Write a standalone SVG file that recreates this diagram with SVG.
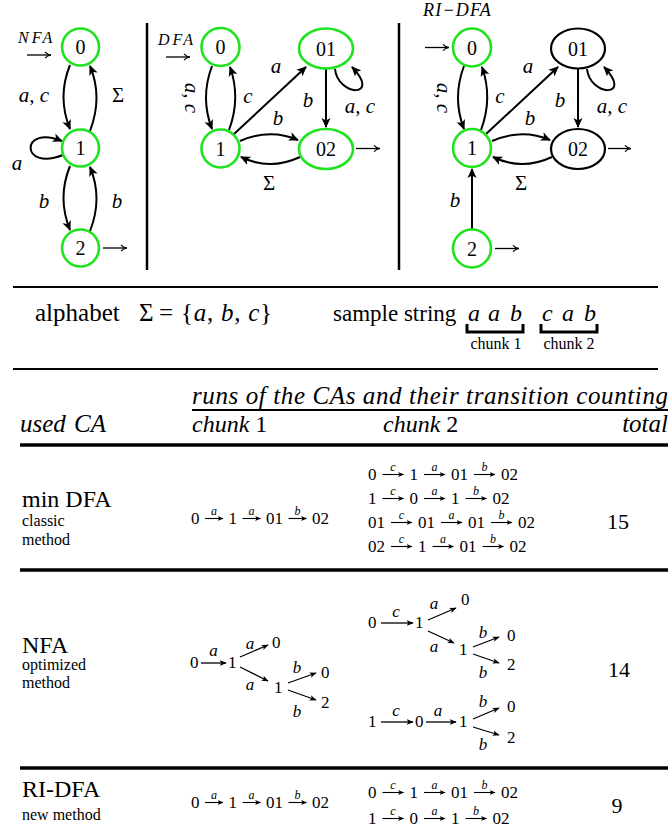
<svg xmlns="http://www.w3.org/2000/svg" width="670" height="835" viewBox="0 0 670 835" font-family="'Liberation Serif', 'Times New Roman', serif">
<style>
text{font-family:'Liberation Serif','Times New Roman',serif;fill:#000}
.it{font-style:italic}
.nl{font-size:20px;text-anchor:middle}
.el{font-size:21px;font-style:italic;text-anchor:middle}
.up{font-style:normal}
.gn{fill:#fff;stroke:#1ee31e;stroke-width:2.6}
.bn{fill:#fff;stroke:#000;stroke-width:2.2}
.e{fill:none;stroke:#000;stroke-width:2;marker-end:url(#ah)}
.io{fill:none;stroke:#000;stroke-width:1.3;marker-end:url(#oa)}
.sep{stroke:#000;stroke-width:2.5}
.rule{stroke:#000;stroke-width:2}
.thick{stroke:#000;stroke-width:3.5}
.ta{fill:none;stroke:#000;stroke-width:1.3;marker-end:url(#sa)}
.ca{fill:none;stroke:#000;stroke-width:1.1;marker-end:url(#ca)}
.big{font-size:24px}
.hd{font-size:25px;font-style:italic}
.sm{font-size:16px}
.d{font-size:17px}
.lb{font-size:12px;font-style:italic;text-anchor:middle}
.tl{font-size:17px;font-style:italic;text-anchor:middle}
.tot{font-size:22px;text-anchor:middle}
.ml{font-size:16px;font-style:italic}
</style>
<defs>
<marker id="ah" viewBox="0 0 10 10" refX="9" refY="5" markerWidth="10" markerHeight="10" markerUnits="userSpaceOnUse" orient="auto"><path d="M0,0.5 L10,5 L0,9.5 L2.5,5 Z"/></marker>
<marker id="sa" viewBox="0 0 10 10" refX="9" refY="5" markerWidth="7" markerHeight="7" markerUnits="userSpaceOnUse" orient="auto"><path d="M0,1 L10,5 L0,9 L2.5,5 Z"/></marker>
<marker id="oa" viewBox="0 0 10 10" refX="9.5" refY="5" markerWidth="8" markerHeight="8" markerUnits="userSpaceOnUse" orient="auto"><path d="M2,1 Q5,4.5 9.5,5 Q5,5.5 2,9" fill="none" stroke="#000" stroke-width="1.4"/></marker>
<marker id="ca" viewBox="0 0 10 10" refX="9" refY="5" markerWidth="6" markerHeight="6" markerUnits="userSpaceOnUse" orient="auto"><path d="M0,1 L10,5 L0,9 L2.5,5 Z"/></marker>
</defs>

<g id="connectors">
<!-- NFA -->
<path class="io" d="M27,55 H51"/>
<path class="io" d="M103,248 H127"/>
<path class="e" d="M70,65 Q57,97 70,129"/>
<path class="e" d="M90,131 Q103,97 90,66"/>
<path class="e" d="M63,155 C20,172 20,124 62,141"/>
<path class="e" d="M70,166 Q57,198 70,230"/>
<path class="e" d="M90,231 Q103,198 90,167"/>
<!-- DFA -->
<path class="io" d="M166,57 H190"/>
<path class="io" d="M356,148.5 H380"/>
<path class="e" d="M212,66 Q200,98 212,129"/>
<path class="e" d="M229,130 Q241,98 230,67"/>
<path class="e" d="M234,134 L306,67"/>
<path class="e" d="M335,69 C338,97 382,98 352,67"/>
<path class="e" d="M326,69 L326,127"/>
<path class="e" d="M240,141 Q270,128 298,140"/>
<path class="e" d="M300,157 Q270,171 241,157"/>
<!-- RI-DFA -->
<path class="io" d="M425,47.5 H449"/>
<path class="io" d="M608,148.5 H631"/>
<path class="io" d="M495,248.5 H519"/>
<path class="e" d="M464,66 Q452,98 464,129"/>
<path class="e" d="M481,130 Q493,98 482,67"/>
<path class="e" d="M486,134 L558,67"/>
<path class="e" d="M587,69 C590,97 634,98 604,67"/>
<path class="e" d="M578,69 L578,127"/>
<path class="e" d="M492,141 Q522,128 550,140"/>
<path class="e" d="M552,157 Q522,171 493,157"/>
<path class="e" d="M472,229 L472,169"/>
</g>

<!-- ===== NFA ===== -->
<g id="nfa-labels">
<text class="ml" x="18" y="43" letter-spacing="3">NFA</text>
<text class="el" x="34" y="102">a, c</text>
<text class="el up" x="118" y="102">Σ</text>
<text class="el" x="17" y="170">a</text>
<text class="el" x="44" y="208">b</text>
<text class="el" x="117" y="208">b</text>
</g>
<g id="nfa-0"><circle class="gn" cx="80.5" cy="47" r="18.5"/><text class="nl" x="80.5" y="54">0</text></g>
<g id="nfa-1"><circle class="gn" cx="80.5" cy="148" r="18.5"/><text class="nl" x="80.5" y="155">1</text></g>
<g id="nfa-2"><circle class="gn" cx="80.5" cy="248" r="18.5"/><text class="nl" x="80.5" y="255">2</text></g>

<line class="sep" x1="147" y1="23" x2="147" y2="270"/>

<!-- ===== DFA ===== -->
<g id="dfa-labels">
<text class="ml" x="158" y="45" letter-spacing="3">DFA</text>
<text class="el" transform="translate(191,98) rotate(90)" dy="6">a, c</text>
<text class="el" x="248" y="103">c</text>
<text class="el" x="276" y="73">a</text>
<text class="el" x="308" y="107">b</text>
<text class="el" x="360" y="113">a, c</text>
<text class="el" x="278" y="125">b</text>
<text class="el up" x="269" y="190">Σ</text>
</g>
<g id="dfa-0"><circle class="gn" cx="220.5" cy="47" r="19"/><text class="nl" x="220.5" y="54">0</text></g>
<g id="dfa-01"><ellipse class="gn" cx="326" cy="48.5" rx="27" ry="20"/><text class="nl" x="326" y="55.5">01</text></g>
<g id="dfa-1"><circle class="gn" cx="220.5" cy="148.5" r="19"/><text class="nl" x="220.5" y="155.5">1</text></g>
<g id="dfa-02"><ellipse class="gn" cx="326" cy="149" rx="27" ry="20"/><text class="nl" x="326" y="156">02</text></g>

<line class="sep" x1="399" y1="23" x2="399" y2="270"/>

<!-- ===== RI-DFA ===== -->
<g id="ri-labels">
<text class="it" x="423" y="16" font-size="18" letter-spacing="1.2">RI−DFA</text>
<text class="el" transform="translate(443,98) rotate(90)" dy="6">a, c</text>
<text class="el" x="500" y="103">c</text>
<text class="el" x="528" y="73">a</text>
<text class="el" x="560" y="107">b</text>
<text class="el" x="612" y="113">a, c</text>
<text class="el" x="530" y="125">b</text>
<text class="el up" x="521" y="190">Σ</text>
<text class="el" x="455" y="207">b</text>
</g>
<g id="ri-0"><circle class="gn" cx="472" cy="47.5" r="19"/><text class="nl" x="472" y="54.5">0</text></g>
<g id="ri-01"><ellipse class="bn" cx="578" cy="48.5" rx="27" ry="20"/><text class="nl" x="578" y="55.5">01</text></g>
<g id="ri-1"><circle class="gn" cx="472" cy="148" r="19"/><text class="nl" x="472" y="155">1</text></g>
<g id="ri-02"><ellipse class="bn" cx="578" cy="149" rx="27" ry="20"/><text class="nl" x="578" y="156">02</text></g>
<g id="ri-2"><circle class="gn" cx="472" cy="248.5" r="19"/><text class="nl" x="472" y="255.5">2</text></g>

<!-- ===== alphabet / sample ===== -->
<line class="rule" x1="13" y1="287" x2="658" y2="287"/>
<text font-size="25" x="35" y="321">alphabet</text>
<text font-size="25" x="139" y="321">Σ</text>
<text font-size="25" x="159" y="321">=</text>
<text font-size="25" x="181" y="321" textLength="91" lengthAdjust="spacing">{<tspan class="it">a</tspan>, <tspan class="it">b</tspan>, <tspan class="it">c</tspan>}</text>
<text font-size="23" x="333" y="321">sample string</text>
<text class="big it" x="468" y="321">a</text><text class="big it" x="488" y="321">a</text><text class="big it" x="510" y="321">b</text>
<text class="big it" x="542" y="321">c</text><text class="big it" x="562" y="321">a</text><text class="big it" x="584" y="321">b</text>
<path d="M467,324 V332 H523 V324 M541,324 V332 H597 V324" fill="none" stroke="#000" stroke-width="3"/>
<text font-size="16" x="496" y="349" text-anchor="middle">chunk 1</text>
<text font-size="16" x="569" y="349" text-anchor="middle">chunk 2</text>
<line class="rule" x1="13" y1="369" x2="658" y2="369"/>

<!-- ===== table header ===== -->
<text class="hd" x="192" y="404" textLength="476" lengthAdjust="spacing">runs of the CAs and their transition counting</text>
<line class="rule" x1="192" y1="410" x2="668" y2="410"/>
<text class="hd" x="20" y="432" word-spacing="2">used CA</text>
<text class="big it" x="192" y="432">chunk <tspan font-style="normal">1</tspan></text>
<text class="big it" x="383" y="432">chunk <tspan font-style="normal">2</tspan></text>
<text class="hd" x="668" y="432" text-anchor="end">total</text>
<line class="thick" x1="20" y1="445" x2="668" y2="445"/>

<!-- ===== min DFA row ===== -->
<text class="big" x="22" y="507">min DFA</text>
<text class="sm" x="22" y="526">classic</text>
<text class="sm" x="22" y="545">method</text>
<!-- chunk1 -->
<text class="d" x="191" y="524">0</text><text class="d" x="228.5" y="524">1</text><text class="d" x="266" y="524">01</text><text class="d" x="312" y="524">02</text>
<path class="ca" d="M205,518.5 H223"/><path class="ca" d="M242.5,518.5 H260.5"/><path class="ca" d="M288.5,518.5 H306.5"/>
<text class="lb" x="214" y="515">a</text><text class="lb" x="251.5" y="515">a</text><text class="lb" x="297.5" y="515">b</text>
<!-- chunk2 -->
<text class="d" x="368" y="480">0</text><text class="d" x="409.5" y="480">1</text><text class="d" x="451" y="480">01</text><text class="d" x="501" y="480">02</text>
<path class="ca" d="M382.5,474.5 H403.5"/><path class="ca" d="M424,474.5 H445"/><path class="ca" d="M474,474.5 H495"/>
<text class="lb" x="393" y="471">c</text><text class="lb" x="434.5" y="471">a</text><text class="lb" x="484.5" y="471">b</text>

<text class="d" x="368" y="504">1</text><text class="d" x="409.5" y="504">0</text><text class="d" x="451" y="504">1</text><text class="d" x="492.5" y="504">02</text>
<path class="ca" d="M382.5,498.5 H403.5"/><path class="ca" d="M424,498.5 H445"/><path class="ca" d="M465.5,498.5 H486.5"/>
<text class="lb" x="393" y="495">c</text><text class="lb" x="434.5" y="495">a</text><text class="lb" x="476" y="495">b</text>

<text class="d" x="368" y="528">01</text><text class="d" x="418" y="528">01</text><text class="d" x="468" y="528">01</text><text class="d" x="518" y="528">02</text>
<path class="ca" d="M391,522.5 H412"/><path class="ca" d="M441,522.5 H462"/><path class="ca" d="M491,522.5 H512"/>
<text class="lb" x="401.5" y="519">c</text><text class="lb" x="451.5" y="519">a</text><text class="lb" x="501.5" y="519">b</text>

<text class="d" x="368" y="552">02</text><text class="d" x="418" y="552">1</text><text class="d" x="459.5" y="552">01</text><text class="d" x="509.5" y="552">02</text>
<path class="ca" d="M391,546.5 H412"/><path class="ca" d="M432.5,546.5 H453.5"/><path class="ca" d="M482.5,546.5 H503.5"/>
<text class="lb" x="401.5" y="543">c</text><text class="lb" x="443" y="543">a</text><text class="lb" x="493" y="543">b</text>

<text class="tot" x="618" y="529">15</text>
<line class="thick" x1="20" y1="570" x2="668" y2="570"/>

<!-- ===== NFA row ===== -->
<text class="big" x="22" y="653">NFA</text>
<text class="sm" x="22" y="670">optimized</text>
<text class="sm" x="22" y="688">method</text>
<!-- chunk1 tree -->
<text class="d" x="190" y="668">0</text>
<path class="ta" d="M201,663 H226"/>
<text class="tl" x="213.5" y="656">a</text>
<text class="d" x="228" y="668">1</text>
<path class="ta" d="M240,657 L268,645"/>
<text class="tl" x="250" y="649">a</text>
<text class="d" x="272" y="648">0</text>
<path class="ta" d="M240,667 L268,681"/>
<text class="tl" x="250" y="690">a</text>
<text class="d" x="274" y="693">1</text>
<path class="ta" d="M288,683 L316,673"/>
<text class="tl" x="297" y="673">b</text>
<text class="d" x="321" y="678">0</text>
<path class="ta" d="M288,690 L316,700"/>
<text class="tl" x="297" y="717">b</text>
<text class="d" x="321" y="708">2</text>
<!-- chunk2 tree 1 -->
<text class="d" x="368" y="628">0</text>
<path class="ta" d="M381,623 H413"/>
<text class="tl" x="396" y="617">c</text>
<text class="d" x="415" y="628">1</text>
<path class="ta" d="M428,620 L456,608"/>
<text class="tl" x="434" y="609">a</text>
<text class="d" x="461" y="605">0</text>
<path class="ta" d="M428,631 L454,643"/>
<text class="tl" x="434" y="652">a</text>
<text class="d" x="459" y="655">1</text>
<path class="ta" d="M473,647 L499,637"/>
<text class="tl" x="483" y="638">b</text>
<text class="d" x="507" y="641">0</text>
<path class="ta" d="M473,654 L499,663"/>
<text class="tl" x="483" y="678">b</text>
<text class="d" x="507" y="670">2</text>
<!-- chunk2 tree 2 -->
<text class="d" x="368" y="727">1</text>
<path class="ta" d="M381,722 H413"/>
<text class="tl" x="396" y="716">c</text>
<text class="d" x="415" y="727">0</text>
<path class="ta" d="M426,722 H456"/>
<text class="tl" x="438" y="716">a</text>
<text class="d" x="459" y="727">1</text>
<path class="ta" d="M473,719 L499,708"/>
<text class="tl" x="483" y="707">b</text>
<text class="d" x="507" y="712">0</text>
<path class="ta" d="M473,727 L499,735"/>
<text class="tl" x="483" y="750">b</text>
<text class="d" x="507" y="743">2</text>
<text class="tot" x="619" y="677">14</text>
<line class="thick" x1="20" y1="768" x2="668" y2="768"/>

<!-- ===== RI-DFA row ===== -->
<text class="big" x="22" y="797">RI-DFA</text>
<text class="sm" x="22" y="820">new method</text>
<text class="d" x="191" y="808">0</text><text class="d" x="228.5" y="808">1</text><text class="d" x="266" y="808">01</text><text class="d" x="312" y="808">02</text>
<path class="ca" d="M205,802.5 H223"/><path class="ca" d="M242.5,802.5 H260.5"/><path class="ca" d="M288.5,802.5 H306.5"/>
<text class="lb" x="214" y="799">a</text><text class="lb" x="251.5" y="799">a</text><text class="lb" x="297.5" y="799">b</text>

<text class="d" x="368" y="798">0</text><text class="d" x="409.5" y="798">1</text><text class="d" x="451" y="798">01</text><text class="d" x="501" y="798">02</text>
<path class="ca" d="M382.5,792.5 H403.5"/><path class="ca" d="M424,792.5 H445"/><path class="ca" d="M474,792.5 H495"/>
<text class="lb" x="393" y="789">c</text><text class="lb" x="434.5" y="789">a</text><text class="lb" x="484.5" y="789">b</text>

<text class="d" x="368" y="824">1</text><text class="d" x="409.5" y="824">0</text><text class="d" x="451" y="824">1</text><text class="d" x="492.5" y="824">02</text>
<path class="ca" d="M382.5,818.5 H403.5"/><path class="ca" d="M424,818.5 H445"/><path class="ca" d="M465.5,818.5 H486.5"/>
<text class="lb" x="393" y="815">c</text><text class="lb" x="434.5" y="815">a</text><text class="lb" x="476" y="815">b</text>
<text class="tot" x="617" y="813">9</text>
</svg>
